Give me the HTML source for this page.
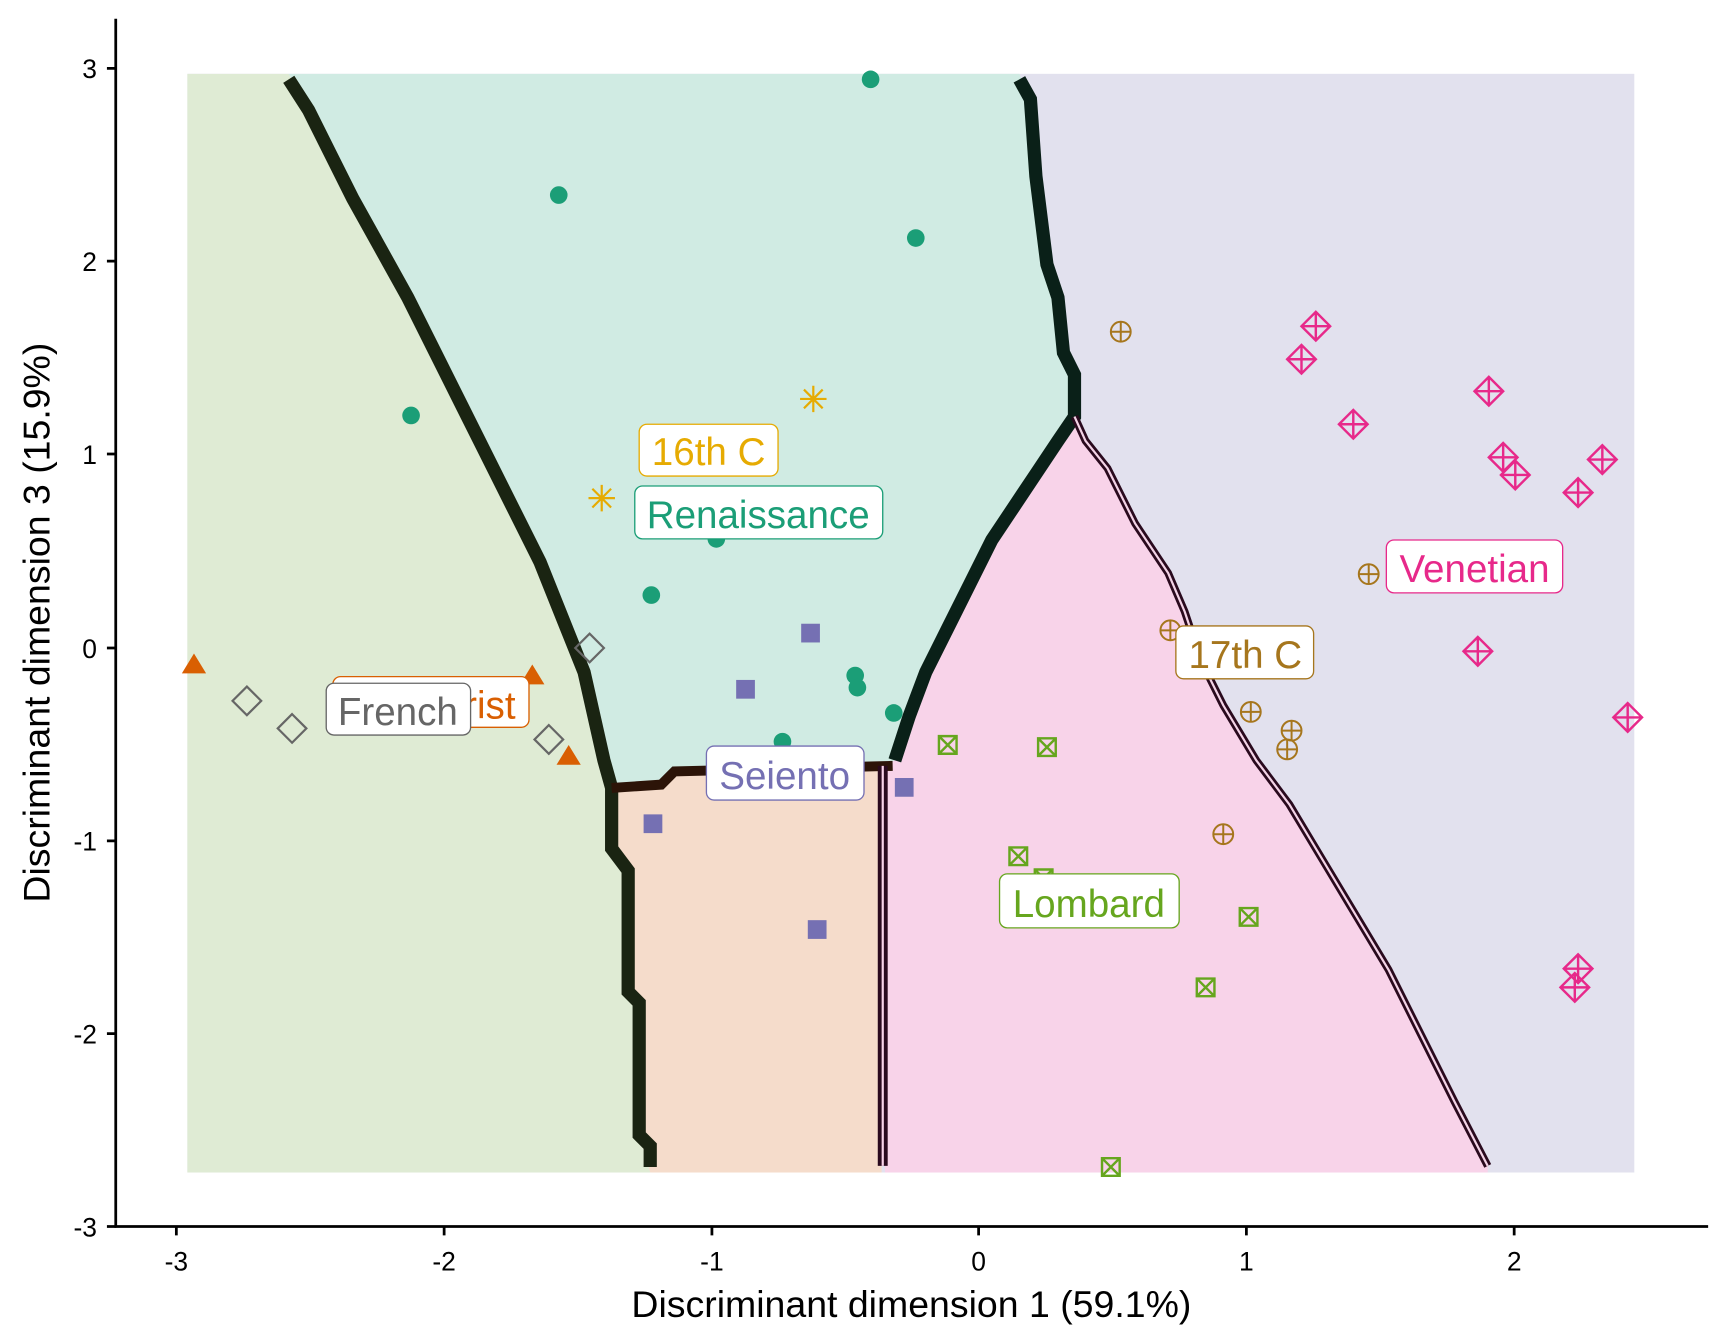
<!DOCTYPE html>
<html><head><meta charset="utf-8"><style>html,body{margin:0;padding:0;background:#fff}svg{display:block}</style></head><body>
<svg width="1728" height="1344" viewBox="0 0 1568 1219.6" xmlns="http://www.w3.org/2000/svg" font-family="Liberation Sans, sans-serif">
<defs>
<g id="dp"><path d="M0,-13 L13,0 L0,13 L-13,0Z M0,-13V13 M-13,0H13" fill="none" stroke="#e7298a" stroke-width="2.2"/></g>
<g id="bx"><path d="M-8,-8H8V8H-8Z M-8,-8L8,8 M8,-8L-8,8" fill="none" stroke="#66a61e" stroke-width="2.2"/></g>
<g id="cp"><path d="M-9,0A9,9 0 1,0 9,0A9,9 0 1,0 -9,0Z M0,-9V9 M-9,0H9" fill="none" stroke="#a6761d" stroke-width="1.8"/></g>
<g id="dm"><path d="M0,-13 L13,0 L0,13 L-13,0Z" fill="none" stroke="#666" stroke-width="2"/></g>
<g id="as"><path d="M0,-12V12 M-12,0H12 M-8.5,-8.5L8.5,8.5 M8.5,-8.5L-8.5,8.5" stroke="#e6ab02" stroke-width="2"/></g>
</defs>
<rect x="170" y="67" width="1313" height="997" fill="#e2e1ee"/>
<polygon fill="#dfebd4" points="170,67 262,67 280,100 300,140 320,180 345,225 370,270 395,320 420,370 440,410 465,460 490,510 510,560 530,610 548,690 555,715 555,770 570,790 570,900 580,910 580,1030 590,1064 170,1064"/>
<polygon fill="#d0ebe3" points="262,67 925,67 935,90 940,160 950,240 960,270 965,320 975,340 975,378 960,400 940,430 920,460 900,490 880,530 860,570 840,610 825,650 812,690 800,695 612,700 600,712 555,715 548,690 530,610 510,560 490,510 465,460 440,410 420,370 395,320 370,270 345,225 320,180 300,140 280,100"/>
<polygon fill="#f5dccb" points="555,715 600,712 612,700 800,695 800,1064 590,1064 580,1030 580,910 570,900 570,790 555,770"/>
<polygon fill="#f8d3e9" points="803,695 812,690 825,650 840,610 860,570 880,530 900,490 920,460 940,430 960,400 975,378 985,400 1005,425 1030,475 1060,520 1075,555 1090,600 1110,640 1140,690 1170,730 1200,780 1230,830 1260,880 1290,940 1320,1000 1350,1058 1350,1064 803,1064"/>
<g fill="none" stroke-linejoin="miter">
<polyline stroke="#1a2412" stroke-width="12" points="262,72 280,100 300,140 320,180 345,225 370,270 395,320 420,370 440,410 465,460 490,510 510,560 530,610 548,690 555,715 555,770 570,790 570,900 580,910 580,1030 590,1040 590,1059"/>
<polyline stroke="#0a2018" stroke-width="12" points="925,72 935,90 940,160 950,240 960,270 965,320 975,340 975,378 960,400 940,430 920,460 900,490 880,530 860,570 840,610 825,650 812,690"/>
<polyline stroke="#2c1408" stroke-width="9" points="555,715 600,712 612,700 810,695"/>
<line x1="801" y1="695" x2="801" y2="1058" stroke="#2a0a1e" stroke-width="9"/>
<line x1="801" y1="695" x2="801" y2="1058" stroke="#f8d3e9" stroke-width="2"/>
<polyline stroke="#2a0a1e" stroke-width="7" points="975,378 985,400 1005,425 1030,475 1060,520 1075,555 1090,600 1110,640 1140,690 1170,730 1200,780 1230,830 1260,880 1290,940 1320,1000 1350,1058"/>
<polyline stroke="#f3d3e6" stroke-width="2" points="975,378 985,400 1005,425 1030,475 1060,520 1075,555 1090,600 1110,640 1140,690 1170,730 1200,780 1230,830 1260,880 1290,940 1320,1000 1350,1058"/>
</g>
<g fill="#1b9e77">
<circle cx="790" cy="72" r="8"/><circle cx="507" cy="177" r="8"/><circle cx="831" cy="216" r="8"/><circle cx="373" cy="377" r="8"/><circle cx="650" cy="489" r="8"/><circle cx="591" cy="540" r="8"/><circle cx="776" cy="613" r="8"/><circle cx="778" cy="624" r="8"/><circle cx="811" cy="647" r="8"/><circle cx="710" cy="673" r="8"/>
</g>
<g fill="#7570b3">
<rect x="727" y="566" width="17" height="17"/><rect x="668" y="617" width="17" height="17"/><rect x="584" y="739" width="17" height="17"/><rect x="812" y="706" width="17" height="17"/><rect x="733" y="835" width="17" height="17"/>
</g>
<use href="#as" x="738" y="362"/><use href="#as" x="546" y="452"/>
<g fill="#d95f02"><polygon points="176,593 187,611 165,611"/><polygon points="483,603 494,621 472,621"/><polygon points="516,676 527,694 505,694"/></g>
<use href="#dm" x="224" y="636"/><use href="#dm" x="265" y="661"/><use href="#dm" x="535" y="588"/><use href="#dm" x="498" y="671"/>
<use href="#bx" x="860" y="676"/><use href="#bx" x="950" y="678"/><use href="#bx" x="924" y="777"/><use href="#bx" x="947" y="797"/><use href="#bx" x="1133" y="832"/><use href="#bx" x="1094" y="896"/><use href="#bx" x="1008" y="1059"/>
<use href="#cp" x="1017" y="301"/><use href="#cp" x="1062" y="572"/><use href="#cp" x="1135" y="646"/><use href="#cp" x="1172" y="663"/><use href="#cp" x="1168" y="680"/><use href="#cp" x="1110" y="757"/><use href="#cp" x="1242" y="521"/>
<use href="#dp" x="1194" y="296"/><use href="#dp" x="1181" y="326"/><use href="#dp" x="1351" y="355"/><use href="#dp" x="1228" y="385"/><use href="#dp" x="1364" y="415"/><use href="#dp" x="1375" y="431"/><use href="#dp" x="1454" y="417"/><use href="#dp" x="1432" y="447"/><use href="#dp" x="1341" y="591"/><use href="#dp" x="1477" y="651"/><use href="#dp" x="1432" y="879"/><use href="#dp" x="1429" y="896"/>
<g font-size="35" text-anchor="middle">
<rect x="580" y="385" width="126" height="47" rx="7" fill="#fff" stroke="#e6ab02" stroke-width="1.2"/><text x="643" y="422" fill="#e6ab02">16th C</text>
<rect x="576" y="441" width="225" height="48" rx="7" fill="#fff" stroke="#1b9e77" stroke-width="1.2"/><text x="688" y="479" fill="#1b9e77">Renaissance</text>
<rect x="1258" y="490" width="160" height="48" rx="7" fill="#fff" stroke="#e7298a" stroke-width="1.2"/><text x="1338" y="528" fill="#e7298a">Venetian</text>
<rect x="1067" y="568" width="125" height="48" rx="7" fill="#fff" stroke="#a6761d" stroke-width="1.2"/><text x="1130" y="606" fill="#a6761d">17th C</text>
<rect x="302" y="614" width="178" height="46" rx="7" fill="#fff" stroke="#d95f02" stroke-width="1.2"/><text x="391" y="652" fill="#d95f02">Mannerist</text>
<rect x="296" y="620" width="131" height="47" rx="7" fill="#fff" stroke="#666" stroke-width="1.2"/><text x="361" y="658" fill="#666">French</text>
<rect x="641" y="677" width="143" height="49" rx="7" fill="#fff" stroke="#7570b3" stroke-width="1.2"/><text x="712" y="716" fill="#7570b3">Seiento</text>
<rect x="907" y="793" width="163" height="49" rx="7" fill="#fff" stroke="#66a61e" stroke-width="1.2"/><text x="988" y="832" fill="#66a61e">Lombard</text>
</g>
<g stroke="#000" stroke-width="2.5" fill="none">
<line x1="105" y1="17" x2="105" y2="1114"/><line x1="104" y1="1113" x2="1550" y2="1113"/>
<path d="M97,62H105 M97,237H105 M97,412H105 M97,588H105 M97,763H105 M97,938H105 M97,1113H105"/>
<path d="M160,1113V1121 M403,1113V1121 M646,1113V1121 M888,1113V1121 M1131,1113V1121 M1374,1113V1121"/>
</g>
<g font-size="24" fill="#000" text-anchor="end">
<text x="88" y="71">3</text><text x="88" y="246">2</text><text x="88" y="421">1</text><text x="88" y="597">0</text><text x="88" y="772">-1</text><text x="88" y="947">-2</text><text x="88" y="1122">-3</text>
</g>
<g font-size="24" fill="#000" text-anchor="middle">
<text x="160" y="1153">-3</text><text x="403" y="1153">-2</text><text x="646" y="1153">-1</text><text x="888" y="1153">0</text><text x="1131" y="1153">1</text><text x="1374" y="1153">2</text>
</g>
<text x="827" y="1195" font-size="34" text-anchor="middle" fill="#000">Discriminant dimension 1 (59.1%)</text>
<text transform="translate(45,565) rotate(-90)" font-size="34" text-anchor="middle" fill="#000">Discriminant dimension 3 (15.9%)</text>
</svg>
</body></html>
